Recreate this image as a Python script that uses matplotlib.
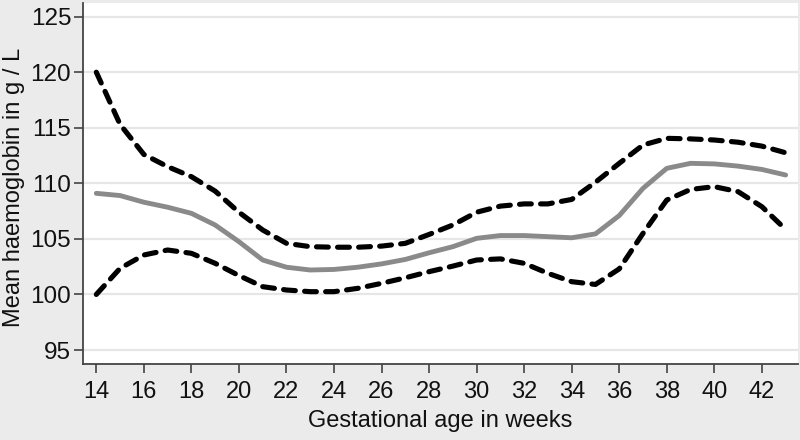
import matplotlib
matplotlib.use("Agg")
import matplotlib.pyplot as plt
from matplotlib import font_manager

weeks = list(range(14, 44))
upper = [120.0, 115.3, 112.6, 111.5, 110.6, 109.3, 107.4, 105.8, 104.6, 104.3,
         104.25, 104.25, 104.35, 104.6, 105.4, 106.25, 107.4, 107.95, 108.15, 108.15,
         108.55, 110.1, 111.8, 113.45, 114.05, 114.0, 113.9, 113.7, 113.35, 112.75]
mean = [109.1, 108.9, 108.3, 107.85, 107.3, 106.25, 104.75, 103.1, 102.45, 102.2,
        102.25, 102.45, 102.75, 103.15, 103.75, 104.3, 105.05, 105.3, 105.3, 105.2,
        105.1, 105.45, 107.1, 109.55, 111.35, 111.8, 111.75, 111.55, 111.25, 110.75]
lower = [100.0, 102.35, 103.55, 104.0, 103.7, 102.8, 101.7, 100.7, 100.4, 100.25,
         100.25, 100.55, 101.0, 101.5, 102.05, 102.55, 103.1, 103.2, 102.8, 101.9,
         101.15, 100.9, 102.3, 105.5, 108.5, 109.45, 109.7, 109.25, 107.9, 105.85]
xticks = list(range(14, 43, 2))
yticks = [95, 100, 105, 110, 115, 120, 125]

names = {f.name for f in font_manager.fontManager.ttflist}
base = "Liberation Sans" if "Liberation Sans" in names else "DejaVu Sans"

bg = "#ebebeb"
fig = plt.figure(figsize=(8, 4.4), dpi=100, facecolor=bg)
ax = fig.add_axes([83/800, 1-364/440, (798-83)/800, (364-3)/440])
ax.set_facecolor("white")

for y in yticks:
    ax.axhline(y, color="#e6e6e6", lw=1.6, zorder=0)

ax.plot(weeks, mean, color="#8a8a8a", lw=3.5, solid_capstyle="round",
        solid_joinstyle="round", zorder=2)
for s in (upper, lower):
    ax.plot(weeks, s, color="black", lw=3.7, dashes=(2.3, 1.8),
            dash_capstyle="round", dash_joinstyle="round", zorder=3)

ax.set_xlim(13.44, 43.52)
ax.set_ylim(93.74, 126.23)
ax.set_xticks(xticks)
ax.set_yticks(yticks)
ax.set_xticklabels([str(v) for v in xticks], family=base, fontsize=17)
ax.set_yticklabels([str(v) for v in yticks], family=base, fontsize=17.5)

for side in ("top", "right"):
    ax.spines[side].set_visible(False)
for side in ("left", "bottom"):
    ax.spines[side].set_color("#444444")
    ax.spines[side].set_linewidth(1.3)
ax.tick_params(axis="y", direction="out", length=6.5, width=1.2, color="#444444",
               pad=2, labelcolor="#111111")
ax.tick_params(axis="x", direction="out", length=6.5, width=1.2, color="#444444",
               pad=6, labelcolor="#111111")

ax.set_xlabel("Gestational age in weeks", family=base, fontsize=17,
              color="#111111", labelpad=5)
ax.set_ylabel("Mean haemoglobin in g / L", family=base, fontsize=17,
              color="#111111", va="center")
ax.yaxis.set_label_coords(-0.096, 0.49)

fig.savefig("out.png", dpi=100, facecolor=bg)
